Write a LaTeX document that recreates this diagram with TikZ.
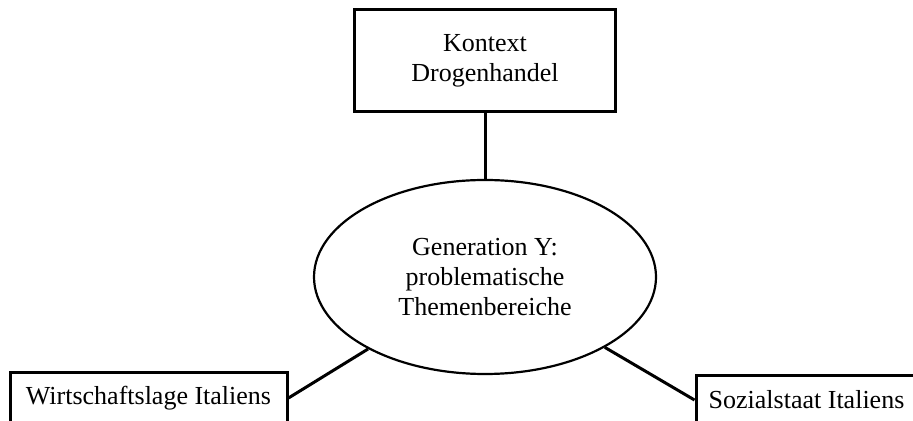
\documentclass[tikz,border=0pt]{standalone}
\usepackage{fontspec}
\setmainfont{Liberation Serif}
\usetikzlibrary{shapes.geometric}
\tikzset{
    themebox/.style={draw, line width=1.5pt, rectangle, align=center, inner sep=0pt},
    centrebox/.style={draw, line width=1.1pt, ellipse, align=center, inner sep=0pt,
        minimum width=171pt, minimum height=97pt},
    link/.style={line width=1.5pt}
}
\begin{document}
\begin{tikzpicture}[x=0.5pt, y=-0.5pt, font=\fontsize{13}{15}\selectfont]
    \useasboundingbox (0,0) rectangle (913,421);
    % Mitte und Themen
    \node[centrebox] (gen) at (485,277) {Generation Y:\\problematische\\Themenbereiche};
    \node[themebox, minimum width=130.5pt, minimum height=51pt] (kontext) at (485,61) {Kontext\\Drogenhandel};
    \node[themebox, minimum width=138.5pt, minimum height=26pt] (wirt) at (148.5,398) {Wirtschaftslage Italiens};
    \node[themebox, minimum width=110.5pt, minimum height=25pt] (sozial) at (806.5,400) {Sozialstaat Italiens};
    % Verbindungen
    \draw[link] (kontext) -- (gen);
    \draw[link] (wirt.east) -- (gen);
    \draw[link] (gen) -- (sozial.west);
\end{tikzpicture}
\end{document}
